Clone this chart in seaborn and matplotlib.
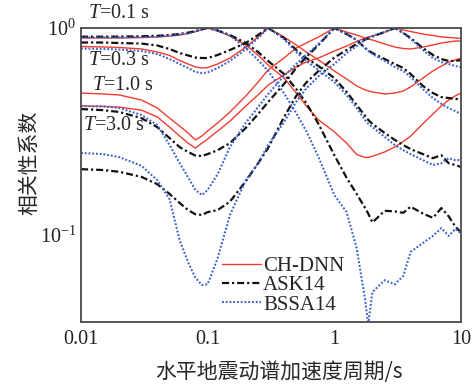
import matplotlib
matplotlib.use("Agg")
import matplotlib.pyplot as plt
import numpy as np
import pandas as pd
import seaborn as sns
from matplotlib.ticker import LogLocator, NullFormatter, FixedLocator, FixedFormatter

# Spectral periods (s) at which the correlation coefficients are tabulated
periods = [0.01, 0.015, 0.02, 0.03, 0.04, 0.05, 0.06, 0.07, 0.08, 0.09,
           0.1, 0.12, 0.15, 0.2, 0.25, 0.3, 0.4, 0.5, 0.6, 0.75,
           1.0, 1.25, 1.5, 1.75, 1.85, 2.0, 2.5, 3.0, 3.5, 4.0,
           5.0, 6.0, 7.0, 8.0, 9.0, 10.0]

# Conditioning period T = 0.1 s
dnn_t01 = [0.895, 0.895, 0.895, 0.90, 0.905, 0.915, 0.925, 0.94, 0.96, 0.983,
           1.0, 0.967, 0.915, 0.828, 0.74, 0.663, 0.574, 0.485, 0.421, 0.36,
           0.315, 0.278, 0.245, 0.237, 0.237, 0.24, 0.252, 0.266, 0.283, 0.30,
           0.345, 0.384, 0.42, 0.449, 0.47, 0.485]
ask_t01 = [0.908, 0.908, 0.909, 0.912, 0.917, 0.925, 0.935, 0.95, 0.967, 0.985,
           1.0, 0.973, 0.925, 0.846, 0.766, 0.693, 0.60, 0.507, 0.434, 0.344,
           0.243, 0.189, 0.158, 0.135, 0.127, 0.115, 0.131, 0.13, 0.128, 0.137,
           0.127, 0.121, 0.135, 0.123, 0.11, 0.103]
bssa_t01 = [0.90, 0.90, 0.90, 0.903, 0.908, 0.917, 0.928, 0.944, 0.963, 0.984,
            1.0, 0.973, 0.92, 0.80, 0.70, 0.62, 0.485, 0.388, 0.318, 0.238,
            0.156, 0.129, 0.0865, 0.0487, 0.037, 0.053, 0.0605, 0.0578, 0.0634, 0.0828,
            0.0915, 0.099, 0.108, 0.099, 0.107, 0.102]

# Conditioning period T = 0.3 s
dnn_t03 = [0.814, 0.81, 0.805, 0.792, 0.766, 0.737, 0.697, 0.67, 0.648, 0.641,
           0.644, 0.67, 0.716, 0.809, 0.905, 1.0, 0.905, 0.828, 0.766, 0.701,
           0.62, 0.567, 0.525, 0.502, 0.497, 0.491, 0.48, 0.485, 0.496, 0.519,
           0.573, 0.62, 0.655, 0.685, 0.70, 0.716]
ask_t03 = [0.851, 0.851, 0.846, 0.841, 0.823, 0.792, 0.757, 0.737, 0.72, 0.716,
           0.716, 0.741, 0.783, 0.846, 0.925, 1.0, 0.895, 0.783, 0.716, 0.655,
           0.573, 0.491, 0.425, 0.376, 0.36, 0.344, 0.311, 0.288, 0.272, 0.26,
           0.246, 0.235, 0.243, 0.222, 0.218, 0.213]
bssa_t03 = [0.796, 0.792, 0.787, 0.774, 0.749, 0.708, 0.67, 0.641, 0.613, 0.606,
            0.61, 0.641, 0.693, 0.792, 0.895, 1.0, 0.885, 0.766, 0.693, 0.627,
            0.548, 0.475, 0.411, 0.359, 0.345, 0.332, 0.298, 0.272, 0.257, 0.246,
            0.23, 0.218, 0.222, 0.235, 0.23, 0.23]

# Conditioning period T = 1.0 s
dnn_t10 = [0.485, 0.48, 0.475, 0.449, 0.411, 0.367, 0.336, 0.311, 0.288, 0.301,
           0.318, 0.348, 0.393, 0.469, 0.548, 0.627, 0.716, 0.80, 0.846, 0.905,
           1.0, 0.956, 0.925, 0.895, 0.885, 0.875, 0.837, 0.809, 0.796, 0.792,
           0.809, 0.828, 0.846, 0.856, 0.865, 0.865]
ask_t10 = [0.406, 0.401, 0.393, 0.367, 0.332, 0.294, 0.266, 0.252, 0.242, 0.241,
           0.246, 0.257, 0.278, 0.329, 0.384, 0.439, 0.536, 0.641, 0.724, 0.828,
           1.0, 0.935, 0.875, 0.80, 0.78, 0.757, 0.708, 0.67, 0.641, 0.60,
           0.525, 0.485, 0.464, 0.459, 0.454, 0.454]
bssa_t10 = [0.42, 0.418, 0.411, 0.38, 0.34, 0.272, 0.223, 0.19, 0.165, 0.156,
            0.165, 0.197, 0.266, 0.348, 0.415, 0.48, 0.586, 0.67, 0.741, 0.837,
            1.0, 0.935, 0.875, 0.80, 0.775, 0.749, 0.693, 0.648, 0.62, 0.58,
            0.507, 0.459, 0.43, 0.41, 0.397, 0.384]

# Conditioning period T = 3.0 s
dnn_t30 = [0.42, 0.418, 0.415, 0.401, 0.372, 0.332, 0.301, 0.278, 0.263, 0.278,
           0.291, 0.318, 0.355, 0.42, 0.475, 0.53, 0.593, 0.648, 0.685, 0.716,
           0.774, 0.818, 0.86, 0.895, 0.905, 0.915, 0.956, 1.0, 0.978, 0.962,
           0.935, 0.92, 0.905, 0.90, 0.895, 0.89]
ask_t30 = [0.208, 0.206, 0.202, 0.191, 0.176, 0.158, 0.143, 0.132, 0.126, 0.125,
           0.129, 0.132, 0.145, 0.182, 0.222, 0.263, 0.37, 0.47, 0.545, 0.62,
           0.72, 0.783, 0.837, 0.88, 0.89, 0.91, 0.956, 1.0, 0.946, 0.895,
           0.80, 0.741, 0.708, 0.693, 0.693, 0.70]
bssa_t30 = [0.249, 0.246, 0.238, 0.216, 0.184, 0.149, 0.0947, 0.0739, 0.0622, 0.0574,
            0.0578, 0.0774, 0.125, 0.184, 0.222, 0.272, 0.35, 0.44, 0.51, 0.585,
            0.67, 0.757, 0.818, 0.875, 0.895, 0.915, 0.956, 1.0, 0.946, 0.885,
            0.783, 0.716, 0.685, 0.67, 0.655, 0.648]

models = ["CH-DNN", "ASK14", "BSSA14"]
target_labels = ["$T$=0.1 s", "$T$=0.3 s", "$T$=1.0 s", "$T$=3.0 s"]
x_ticks = [0.01, 0.1, 1, 10]
x_tick_labels = ["0.01", "0.1", "1", "10"]

curves = [
    ("CH-DNN", "0.1", dnn_t01), ("ASK14", "0.1", ask_t01), ("BSSA14", "0.1", bssa_t01),
    ("CH-DNN", "0.3", dnn_t03), ("ASK14", "0.3", ask_t03), ("BSSA14", "0.3", bssa_t03),
    ("CH-DNN", "1.0", dnn_t10), ("ASK14", "1.0", ask_t10), ("BSSA14", "1.0", bssa_t10),
    ("CH-DNN", "3.0", dnn_t30), ("ASK14", "3.0", ask_t30), ("BSSA14", "3.0", bssa_t30),
]
frames = [pd.DataFrame({"model": m, "target": t, "period": periods, "rho": v})
          for m, t, v in curves]
df = pd.concat(frames, ignore_index=True)

sns.set_theme(style="white")
plt.rcParams.update({
    "font.family": ["Liberation Serif", "DejaVu Serif"],
    "mathtext.fontset": "custom",
    "mathtext.rm": "Liberation Serif",
    "mathtext.it": "Liberation Serif:italic",
    "axes.edgecolor": "#4a4a4a",
    "axes.linewidth": 1.3,
    "xtick.color": "#333333",
    "ytick.color": "#333333",
    "xtick.labelcolor": "#222222",
    "ytick.labelcolor": "#222222",
})
cjk = ["Noto Sans CJK SC", "DejaVu Sans"]

palette = {"CH-DNN": "#f23c30", "ASK14": "#111111", "BSSA14": "#3d63d0"}
dashes = {"CH-DNN": "", "ASK14": (3.2, 1.3, 1.0, 1.3), "BSSA14": (0.9, 0.9)}
sizes = {"CH-DNN": 1.0, "ASK14": 1.6, "BSSA14": 1.5}

fig = plt.figure(figsize=(4.72, 3.85), dpi=100)
ax = fig.add_axes([81 / 472, 1 - 322 / 385, 380 / 472, 294 / 385])

sns.lineplot(data=df, x="period", y="rho", hue="model", style="model", size="model",
             units="target", estimator=None, sort=False, hue_order=models,
             style_order=models, size_order=models, palette=palette, dashes=dashes,
             sizes=sizes, ax=ax)

ax.set_xscale("log")
ax.set_yscale("log")
ax.set_xlim(0.01, 10)
ax.set_ylim(0.038, 1.0)

ax.xaxis.set_major_locator(FixedLocator(x_ticks))
ax.xaxis.set_major_formatter(FixedFormatter(x_tick_labels))
ax.xaxis.set_minor_locator(LogLocator(base=10, subs=np.arange(2, 10)))
ax.xaxis.set_minor_formatter(NullFormatter())
ax.yaxis.set_major_locator(LogLocator(base=10, numticks=5))
ax.yaxis.set_minor_locator(LogLocator(base=10, subs=np.arange(2, 10), numticks=10))
ax.yaxis.set_minor_formatter(NullFormatter())
ax.tick_params(which="both", direction="in", top=False, right=False, labelsize=14.5)
ax.tick_params(which="major", length=5, width=1.0)
ax.tick_params(which="minor", length=3, width=0.9)
ax.tick_params(axis="x", pad=6)

ax.set_xlabel("水平地震动谱加速度周期/s", family=cjk, fontsize=15, va="center")
ax.set_ylabel("相关性系数", family=cjk, fontsize=15, va="center")
ax.xaxis.set_label_coords(0.52, -0.17)
ax.yaxis.set_label_coords(-0.135, 0.54)

# Conditioning-period labels
label_pos = [(0.018, 1.051), (0.018, 0.888), (0.029, 0.803), (0.005, 0.670)]
for text, (tx, ty) in zip(target_labels, label_pos):
    ax.text(tx, ty, text, transform=ax.transAxes, fontsize=14.5,
            ha="left", va="center", clip_on=False)

handles, labels = ax.get_legend_handles_labels()
keep = [(h, l) for h, l in zip(handles, labels) if l in models]
ax.legend([h for h, _ in keep], [l for _, l in keep], loc="upper left",
          bbox_to_anchor=(0.37, 0.222), frameon=False, fontsize=15,
          handlelength=1.9, handletextpad=0.1, labelspacing=-0.02,
          borderpad=0, borderaxespad=0)

fig.savefig("out.png", dpi=100)
